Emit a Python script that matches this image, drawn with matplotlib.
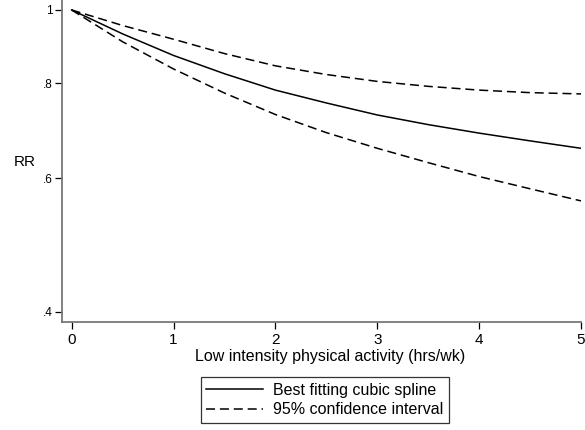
import matplotlib.pyplot as plt

plt.rcParams["font.family"] = ["Liberation Sans", "DejaVu Sans"]
plt.rcParams["lines.scale_dashes"] = False

# hours per week of low intensity activity
hours = [0, 0.5, 1, 1.5, 2, 2.5, 3, 3.5, 4, 4.5, 5]
# relative risk from the cubic spline and its 95% CI
rr_fit = [1.0, 0.930, 0.871, 0.824, 0.784, 0.754, 0.727, 0.706, 0.688, 0.672, 0.657]
rr_upper = [1.0, 0.954, 0.915, 0.876, 0.844, 0.822, 0.805, 0.793, 0.784, 0.778, 0.775]
rr_lower = [1.0, 0.908, 0.836, 0.777, 0.728, 0.689, 0.657, 0.629, 0.603, 0.581, 0.560]

y_ticks = [0.4, 0.6, 0.8, 1.0]
y_labels = [".4", ".6", ".8", "1"]
x_ticks = [0, 1, 2, 3, 4, 5]

fig = plt.figure(figsize=(5.85, 4.3), dpi=100)
ax = fig.add_axes([62 / 585, 1 - 321.7 / 430, (581 - 62) / 585, 321.7 / 430])

dash = (6.5, 3.5)
fit_line, = ax.plot(hours, rr_fit, color="black", lw=1.1,
                    label="Best fitting cubic spline")
ci_line, = ax.plot(hours, rr_upper, color="black", lw=1.1, linestyle=(0, dash),
                   label="95% confidence interval")
ax.plot(hours, rr_lower, color="black", lw=1.1, linestyle=(0, dash))

ax.set_yscale("log")
ax.set_ylim(0.388, 1.0308)
ax.set_xlim(-0.095, 5.0)
ax.set_yticks(y_ticks)
ax.set_yticklabels(y_labels)
ax.minorticks_off()
ax.set_xticks(x_ticks)
ax.set_xticklabels([str(t) for t in x_ticks])

for side in ["top", "right"]:
    ax.spines[side].set_visible(False)
for side in ["left", "bottom"]:
    ax.spines[side].set_color("#777777")
    ax.spines[side].set_linewidth(1.3)

ax.tick_params(axis="y", direction="out", length=5, width=0.9, labelsize=8.5, pad=1.5)
ax.tick_params(axis="x", direction="out", length=5, width=0.9, labelsize=11, pad=3)

fig.text(24.5 / 585, 1 - 162 / 430, "RR", fontsize=11, ha="center", va="center")
fig.text(330 / 585, 1 - 357 / 430, "Low intensity physical activity (hrs/wk)",
         fontsize=11.5, ha="center", va="center")

leg = fig.legend(handles=[fit_line, ci_line], loc="center",
                 bbox_to_anchor=(325 / 585, 1 - 400 / 430), fontsize=11.5,
                 frameon=True, fancybox=False, handlelength=3.55,
                 handletextpad=0.65, borderpad=0.35, labelspacing=0.3,
                 borderaxespad=0)
leg.get_frame().set_edgecolor("black")
leg.get_frame().set_linewidth(0.9)

fig.savefig("out.png", dpi=100)
